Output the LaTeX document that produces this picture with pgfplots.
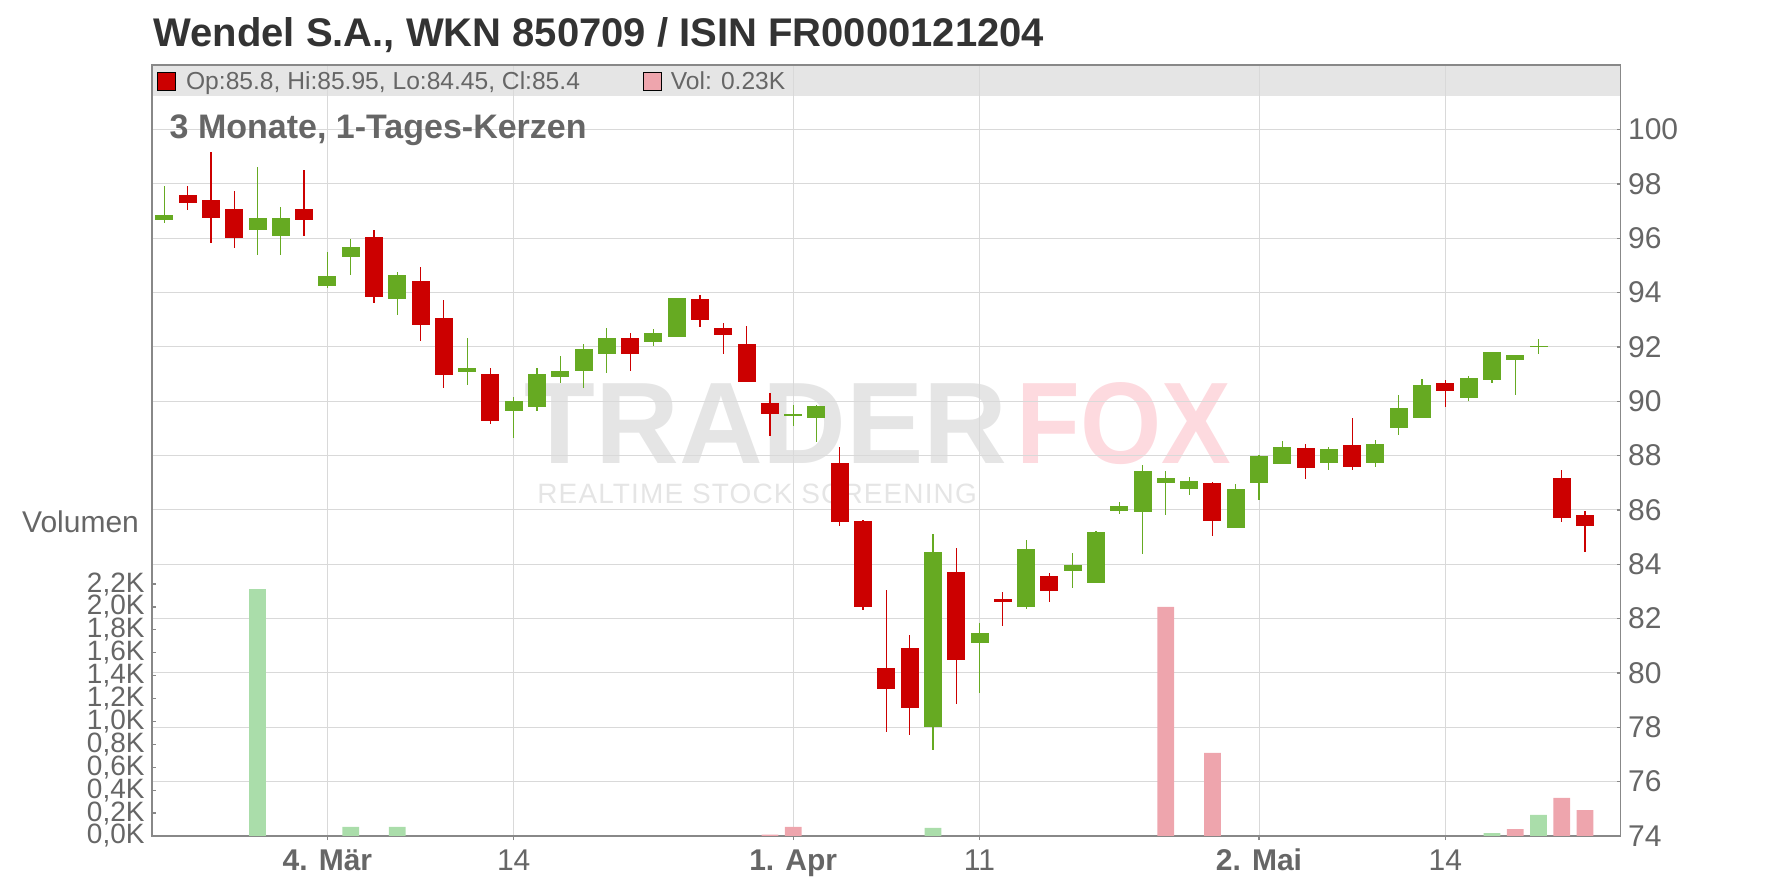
\documentclass[border=0pt]{standalone}
\usepackage{fontspec}
\setmainfont{Liberation Sans}
\usepackage{pgfplots}
\usepackage{pgfplotstable}
\pgfplotsset{compat=1.18}

\definecolor{cRed}{HTML}{CC0000}
\definecolor{cGreen}{HTML}{66AA22}
\definecolor{vGreen}{HTML}{AADDAA}
\definecolor{vPink}{HTML}{EEA5AD}
\definecolor{gridc}{HTML}{D9D9D9}
\definecolor{axc}{HTML}{888888}
\definecolor{txt}{HTML}{666666}
\definecolor{ttl}{HTML}{333333}
\definecolor{barbg}{HTML}{E5E5E5}
\definecolor{wmgray}{HTML}{E5E5E5}
\definecolor{wmpink}{HTML}{FDDADF}

% daily candles: index, open, high, low, close
\pgfplotstableread{
x o h l c
0 96.69 97.93 96.58 96.87
4 96.29 98.63 95.39 96.76
5 96.10 97.16 95.39 96.76
7 94.26 95.50 94.18 94.61
8 95.33 95.97 94.66 95.68
10 93.78 94.76 93.19 94.65
13 91.08 92.32 90.60 91.21
15 89.64 90.15 88.65 90.03
16 89.78 91.21 89.63 90.99
17 90.89 91.66 90.67 91.10
18 91.11 92.10 90.49 91.92
19 91.74 92.69 91.04 92.32
21 92.19 92.66 92.04 92.51
22 92.37 93.80 92.37 93.80
27 89.47 89.88 89.08 89.53
28 89.38 89.88 88.49 89.81
33 78.00 85.12 77.15 84.45
35 81.10 81.83 79.26 81.46
37 82.43 84.90 82.36 84.57
39 83.76 84.42 83.14 83.97
40 83.32 85.23 83.32 85.19
41 85.98 86.30 85.86 86.15
42 85.94 87.67 84.38 87.45
43 86.98 87.45 85.82 87.19
44 86.76 87.23 86.56 87.08
46 85.35 86.97 85.35 86.78
47 86.98 88.04 86.35 88.00
48 87.68 88.55 87.68 88.33
50 87.72 88.33 87.46 88.26
52 87.72 88.59 87.57 88.44
53 89.01 90.25 88.75 89.74
54 89.38 90.81 89.38 90.59
56 90.12 90.92 90.01 90.85
57 90.78 91.81 90.67 91.81
58 91.52 91.69 90.23 91.69
59 92.00 92.29 91.74 92.05
}\greentab

\pgfplotstableread{
x o h l c
1 97.61 97.93 97.03 97.29
2 97.42 99.16 95.83 96.73
3 97.09 97.75 95.65 96.03
6 97.09 98.52 96.09 96.66
9 96.05 96.30 93.63 93.85
11 94.43 94.95 92.22 92.81
12 93.06 93.73 90.49 90.97
14 90.99 91.21 89.16 89.27
20 92.32 92.51 91.11 91.74
23 93.76 93.91 92.74 93.00
24 92.69 92.88 91.74 92.44
25 92.10 92.77 90.71 90.71
26 89.92 90.29 88.71 89.53
29 87.74 88.33 85.43 85.54
30 85.60 85.65 82.32 82.43
31 80.17 83.05 77.82 79.40
32 80.91 81.39 77.73 78.70
34 83.72 84.60 78.85 80.48
36 82.72 82.98 81.73 82.62
38 83.57 83.68 82.62 83.02
45 87.00 87.04 85.05 85.61
49 88.30 88.44 87.13 87.53
51 88.41 89.37 87.46 87.57
55 90.66 90.77 89.79 90.38
60 87.19 87.48 85.57 85.72
61 85.80 85.95 84.45 85.40
}\redtab

% volume in thousands
\pgfplotstableread{
x v
4 2.156
8 0.079
10 0.079
33 0.070
57 0.026
59 0.184
}\volup

\pgfplotstableread{
x v
26 0.011
27 0.079
43 2.000
45 0.726
58 0.061
60 0.332
61 0.227
}\voldown

\pgfplotsset{
  candle body/.style={draw=none, mark=none,
    error bars/.cd, y dir=both, y explicit, error mark=none,
    error bar style={draw=#1, line width=9pt}},
  candle wick/.style={draw=none, mark=none,
    error bars/.cd, y dir=both, y explicit, error mark=none,
    error bar style={draw=#1, line width=0.6pt}},
}

\begin{document}
\begin{tikzpicture}
\useasboundingbox (0,0) rectangle (888pt,444pt);

\node[anchor=base west, inner sep=0pt, text=ttl, font=\bfseries\fontsize{20pt}{24pt}\selectfont]
  at (76.5pt,420.6pt) {Wendel S.A., WKN 850709 / ISIN FR0000121204};

% header bar background
\fill[barbg] (76pt,396.15pt) rectangle (810.35pt,411.15pt);

% watermark
\node[anchor=base west, inner sep=0pt, text=wmgray, font=\bfseries\fontsize{58pt}{60pt}\selectfont]
  at (262pt,212pt) {TRADER};
\node[anchor=base west, inner sep=0pt, text=wmpink, xscale=0.9, font=\bfseries\fontsize{58pt}{60pt}\selectfont]
  at (508pt,212pt) {FOX};
\node[anchor=base west, inner sep=0pt, text=wmgray, font=\fontsize{14pt}{16pt}\selectfont\addfontfeature{LetterSpace=4}]
  at (268.5pt,192pt) {REALTIME STOCK SCREENING};

\node[anchor=base east, inner sep=0pt, text=txt, font=\fontsize{15pt}{18pt}\selectfont]
  at (69.65pt,177.85pt) {Volumen};

% price axis
\begin{axis}[
    scale only axis,
    width=734.35pt, height=385.5pt,
    at={(76pt,26pt)}, anchor=south west,
    xmin=-0.53, xmax=62.53,
    ymin=74, ymax=102.38,
    xtick={7,15,27,35,47,55},
    xticklabels={\textbf{4. Mär},14,\textbf{1. Apr},11,\textbf{2. Mai},14},
    ytick={74,76,...,100},
    xtick pos=left, ytick pos=right,
    yticklabel pos=right,
    tick align=inside,
    major tick length=2pt,
    tick style={axc, line width=0.6pt},
    xtick style={yshift=-2pt},
    axis line style={axc, line width=0.6pt},
    grid=major,
    major grid style={gridc, line width=0.5pt},
    every tick label/.append style={text=txt, font=\fontsize{15pt}{18pt}\selectfont},
    yticklabel style={anchor=west, inner sep=0pt, xshift=3.5pt},
    xticklabel style={anchor=base, inner sep=0pt, yshift=-17pt},
    /pgf/number format/assume math mode=true,
    clip=false,
]
\addplot[candle wick=cGreen] table[x=x, y expr={(\thisrow{h}+\thisrow{l})/2}, y error expr={(\thisrow{h}-\thisrow{l})/2}] {\greentab};
\addplot[candle body=cGreen] table[x=x, y expr={(\thisrow{o}+\thisrow{c})/2}, y error expr={abs(\thisrow{c}-\thisrow{o})/2}] {\greentab};
\addplot[candle wick=cRed] table[x=x, y expr={(\thisrow{h}+\thisrow{l})/2}, y error expr={(\thisrow{h}-\thisrow{l})/2}] {\redtab};
\addplot[candle body=cRed] table[x=x, y expr={(\thisrow{o}+\thisrow{c})/2}, y error expr={abs(\thisrow{c}-\thisrow{o})/2}] {\redtab};
\end{axis}

% volume axis
\begin{axis}[
    scale only axis,
    width=734.35pt, height=385.5pt,
    at={(76pt,26pt)}, anchor=south west,
    xmin=-0.53, xmax=62.53,
    ymin=0, ymax=6.733,
    axis x line=none,
    axis y line*=left,
    ytick={0,0.2,0.4,0.6,0.8,1,1.2,1.4,1.6,1.8,2,2.2},
    yticklabels={{0,0K},{0,2K},{0,4K},{0,6K},{0,8K},{1,0K},{1,2K},{1,4K},{1,6K},{1,8K},{2,0K},{2,2K}},
    tick align=inside,
    major tick length=2pt,
    tick style={axc, line width=0.6pt},
    axis line style={axc, line width=0.6pt},
    every tick label/.append style={text=txt, font=\fontsize{14pt}{16pt}\selectfont},
    yticklabel style={anchor=east, inner sep=0pt, xshift=-3.5pt},
]
\addplot[ybar, bar width=0.72, fill=vGreen, draw=none] table[x=x, y=v] {\volup};
\addplot[ybar, bar width=0.72, fill=vPink, draw=none] table[x=x, y=v] {\voldown};
\end{axis}

% texts drawn over the grid
\filldraw[fill=cRed, draw=black, line width=0.5pt] (78.65pt,398.65pt) rectangle (87.65pt,407.65pt);
\filldraw[fill=vPink, draw=black, line width=0.5pt] (321.5pt,398.65pt) rectangle (330.5pt,407.65pt);
\node[anchor=base west, inner sep=0pt, text=txt, font=\fontsize{12.3pt}{14pt}\selectfont]
  at (92.85pt,399pt) {Op:85.8, Hi:85.95, Lo:84.45, Cl:85.4};
\node[anchor=base west, inner sep=0pt, text=txt, font=\fontsize{12.3pt}{14pt}\selectfont]
  at (335.25pt,399pt) {Vol: 0.23K};
\node[anchor=base west, inner sep=0pt, text=txt, font=\bfseries\fontsize{17pt}{20pt}\selectfont]
  at (84.65pt,374.5pt) {3 Monate, 1-Tages-Kerzen};
\end{tikzpicture}
\end{document}
